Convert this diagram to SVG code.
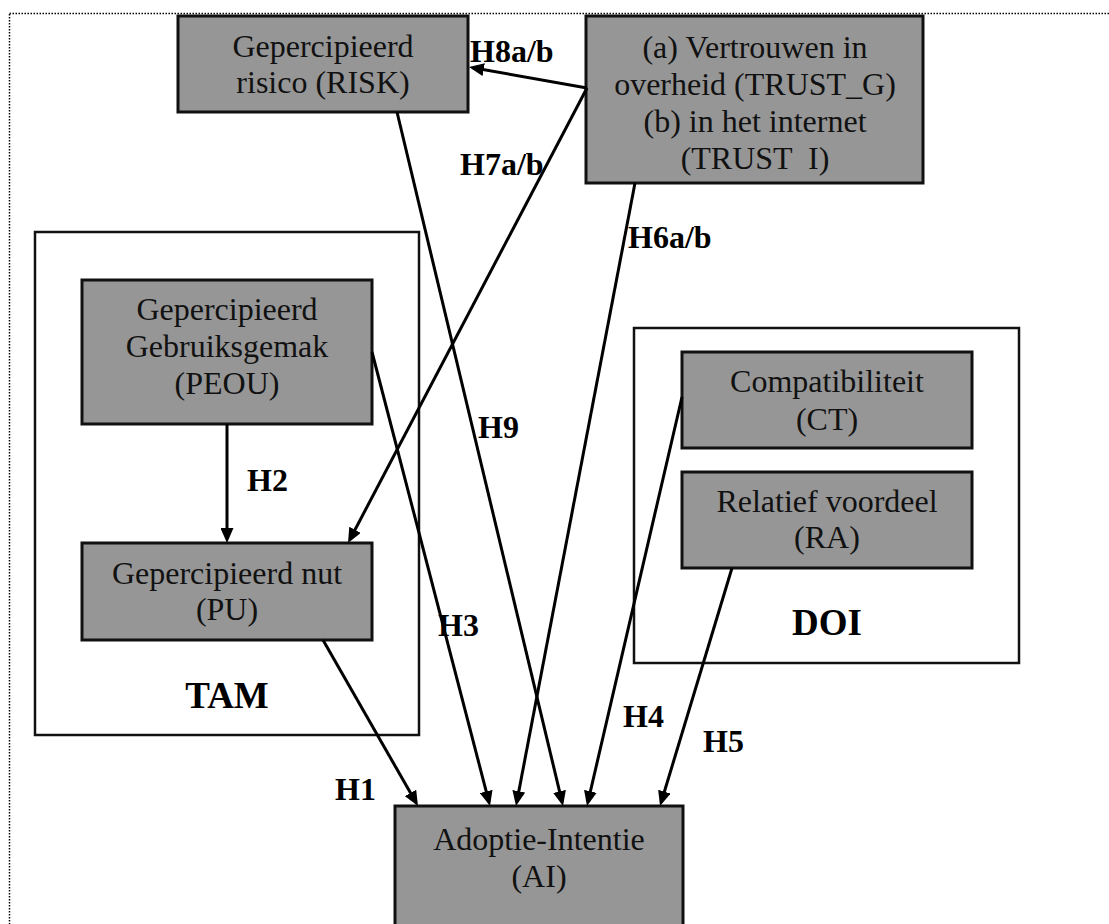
<svg xmlns="http://www.w3.org/2000/svg" width="1109" height="924" viewBox="0 0 1109 924">
<defs>
<style>
.node rect{fill:#969696;stroke:#111;stroke-width:3}
.group rect{fill:none;stroke:#111;stroke-width:2.5}
.nt{font-family:"Liberation Serif","Times New Roman",serif;font-size:32px;fill:#111;text-anchor:middle}
.gl{font-family:"Liberation Serif","Times New Roman",serif;font-size:37px;font-weight:bold;fill:#000;text-anchor:middle}
.lbl{font-family:"Liberation Serif","Times New Roman",serif;font-size:32px;font-weight:bold;fill:#000}
.conn line{stroke:#000;stroke-width:3;fill:none}
.arr{marker-end:url(#ah)}
</style>
<marker id="ah" viewBox="0 0 15 13" markerWidth="15" markerHeight="13" refX="11" refY="6.5" markerUnits="userSpaceOnUse" orient="auto">
<path d="M0,0 L15,6.5 L0,13 z" fill="#000"/>
</marker>
</defs>
<rect width="1109" height="924" fill="#fff"/>
<rect x="9.5" y="13.5" width="1200" height="1000" fill="none" stroke="#000" stroke-width="1.5" stroke-dasharray="1.5,1.5"/>

<g id="TAM" class="group"><rect x="35" y="232" width="384" height="503"/><text class="gl" x="227" y="708">TAM</text></g>
<g id="DOI" class="group"><rect x="634" y="328" width="385" height="335"/><text class="gl" x="827" y="635">DOI</text></g>

<g id="RISK" class="node"><rect x="178" y="16" width="290" height="96"/><text class="nt" x="323" y="57">Gepercipieerd</text><text class="nt" x="323" y="93">risico (RISK)</text></g>
<g id="TRUST" class="node"><rect x="586" y="16" width="337" height="167"/><text class="nt" x="755" y="58">(a) Vertrouwen in</text><text class="nt" x="755" y="95">overheid (TRUST_G)</text><text class="nt" x="755" y="132">(b) in het internet</text><text class="nt" x="755" y="169" xml:space="preserve">(TRUST  I)</text></g>
<g id="PEOU" class="node"><rect x="82" y="280" width="290" height="144"/><text class="nt" x="227" y="320">Gepercipieerd</text><text class="nt" x="227" y="357">Gebruiksgemak</text><text class="nt" x="227" y="394">(PEOU)</text></g>
<g id="PU" class="node"><rect x="82" y="543" width="290" height="97"/><text class="nt" x="227" y="584">Gepercipieerd nut</text><text class="nt" x="227" y="620">(PU)</text></g>
<g id="CT" class="node"><rect x="682" y="352" width="290" height="96"/><text class="nt" x="827" y="392">Compatibiliteit</text><text class="nt" x="827" y="430">(CT)</text></g>
<g id="RA" class="node"><rect x="682" y="472" width="290" height="96"/><text class="nt" x="827" y="512">Relatief voordeel</text><text class="nt" x="827" y="548">(RA)</text></g>
<g id="AI" class="node"><rect x="395" y="806" width="288" height="140"/><text class="nt" x="539" y="850">Adoptie-Intentie</text><text class="nt" x="539" y="887">(AI)</text></g>

<g id="connectors" class="conn">
<line class="arr" x1="587" y1="88" x2="472.9" y2="67.7"/>
<line class="arr" x1="587" y1="88" x2="349.9" y2="539.5"/>
<line class="arr" x1="227" y1="424" x2="227" y2="539"/>
<line class="arr" x1="323" y1="640" x2="416" y2="802.5"/>
<line class="arr" x1="372" y1="352" x2="489" y2="802.1"/>
<line class="arr" x1="635" y1="183" x2="516.75" y2="802.1"/>
<line class="arr" x1="397" y1="112" x2="562.1" y2="802.1"/>
<line class="arr" x1="682" y1="397" x2="587.9" y2="802.1"/>
<line class="arr" x1="732" y1="568" x2="661.2" y2="802.2"/>
</g>

<g id="labels">
<text class="lbl" x="470" y="62">H8a/b</text>
<text class="lbl" x="460" y="175">H7a/b</text>
<text class="lbl" x="628" y="248">H6a/b</text>
<text class="lbl" x="478" y="438">H9</text>
<text class="lbl" x="247" y="491">H2</text>
<text class="lbl" x="438" y="636">H3</text>
<text class="lbl" x="335" y="800">H1</text>
<text class="lbl" x="623" y="727">H4</text>
<text class="lbl" x="703" y="752">H5</text>
</g>
</svg>
